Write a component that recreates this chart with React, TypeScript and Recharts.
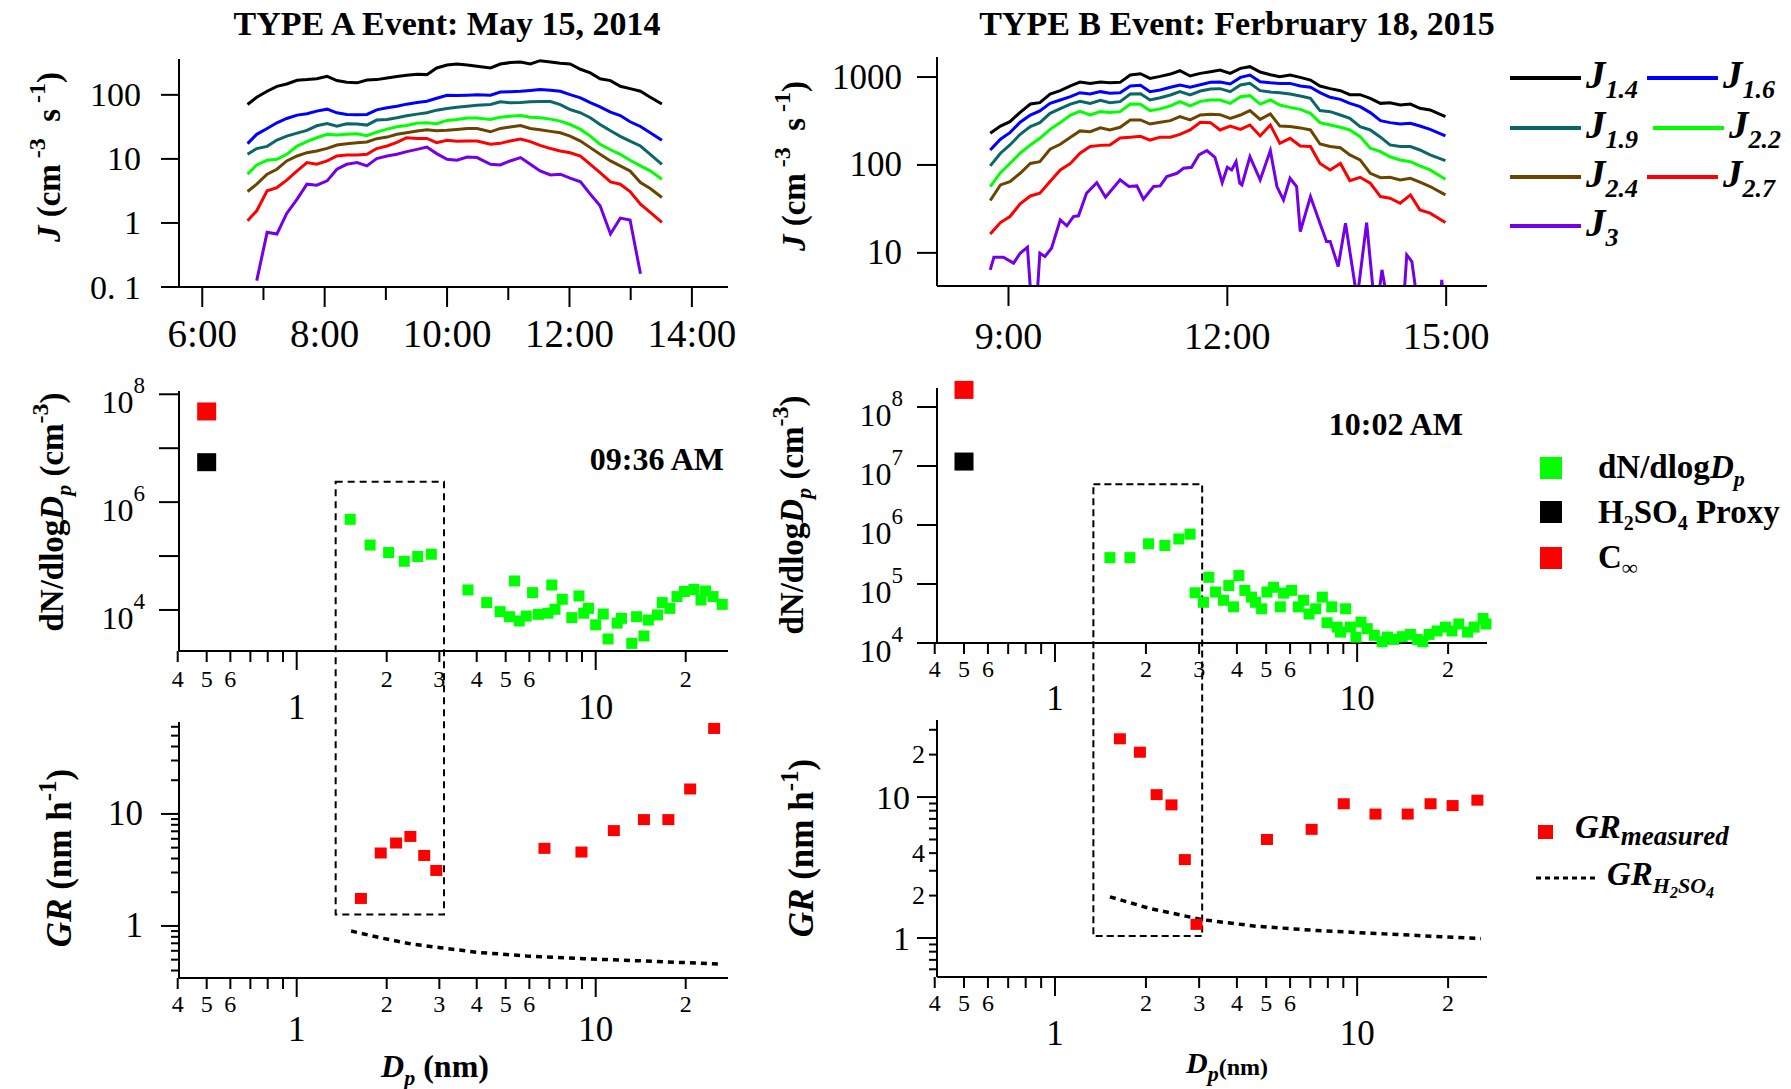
import React from 'react';
import { LineChart, Line, XAxis, YAxis, ComposedChart, Scatter, ReferenceArea } from 'recharts';

const FONT = "'Liberation Serif', 'Times New Roman', Times, serif";

// ---------- TYPE A event (May 15, 2014): J vs time (hours) ----------
const timesA = [6.74, 6.89, 7.06, 7.22, 7.38, 7.55, 7.71, 7.87, 8.04, 8.20, 8.36, 8.53, 8.69, 8.85, 9.02, 9.18, 9.34, 9.51, 9.67, 9.83, 10.00, 10.16, 10.33, 10.49, 10.71, 10.87, 11.03, 11.20, 11.36, 11.52, 11.69, 11.85, 12.01, 12.18, 12.34, 12.50, 12.67, 12.83, 12.99, 13.16, 13.32, 13.51];
const j14A = [70.6, 91.9, 114, 136, 148, 169, 173, 179, 195, 167, 157, 154, 171, 173, 184, 193, 202, 210, 207, 263, 293, 303, 293, 279, 263, 303, 319, 326, 303, 342, 326, 311, 303, 251, 220, 178, 167, 136, 125, 114, 92, 72];
const j16A = [17.3, 24.2, 29.9, 36.6, 42.8, 48.3, 50.6, 55.7, 59.8, 52.5, 49.4, 48.8, 49.4, 58.4, 62.8, 66.5, 71.6, 75.9, 79.6, 88.6, 98.8, 97.6, 98.8, 100, 98.8, 111, 112, 114, 117, 121, 118, 114, 101, 89.8, 75.9, 65.0, 53.7, 47.6, 38.0, 32.1, 25.6, 19.5];
const j19A = [11.8, 14.5, 15.7, 19.7, 22.7, 25.3, 27.9, 32.9, 35.8, 32.5, 35.4, 35.0, 33.7, 40.4, 41.3, 43.9, 47.1, 50.0, 52.5, 57.7, 61.2, 64.3, 66.5, 69.0, 70.6, 77.8, 75.0, 75.9, 77.8, 78.7, 78.7, 70.6, 59.1, 52.5, 43.9, 34.5, 27.5, 22.5, 19.0, 15.9, 11.8, 8.24];
const j22A = [5.77, 8.05, 9.51, 9.86, 11.8, 15.9, 18.6, 21.4, 24.2, 23.6, 24.2, 24.7, 23.0, 26.2, 29.2, 31.8, 33.3, 36.2, 36.6, 35.4, 39.9, 41.3, 43.4, 43.4, 41.3, 44.9, 46.5, 47.6, 44.9, 43.9, 41.8, 38.9, 34.5, 28.9, 22.7, 16.9, 13.9, 11.8, 9.51, 7.77, 6.50, 4.82];
const j24A = [3.10, 4.03, 5.77, 6.90, 9.29, 11.1, 12.5, 13.3, 14.6, 16.5, 17.3, 17.9, 18.4, 20.7, 21.9, 24.2, 25.6, 27.2, 28.5, 27.5, 27.9, 28.9, 29.9, 29.9, 26.5, 29.9, 31.4, 33.3, 29.9, 28.5, 26.9, 25.6, 22.7, 19.0, 15.0, 11.8, 9.29, 7.77, 6.50, 4.28, 3.45, 2.50];
const j27A = [1.08, 1.55, 3.18, 3.57, 4.65, 6.50, 8.75, 8.24, 9.29, 11.1, 11.5, 11.5, 11.8, 14.5, 15.9, 18.1, 21.4, 20.9, 20.9, 17.9, 19.5, 18.8, 19.0, 19.0, 16.9, 17.5, 19.0, 20.4, 18.6, 16.3, 14.5, 13.3, 12.5, 11.1, 8.24, 6.12, 4.38, 4.03, 3.10, 1.97, 1.46, 1.02];
const j3A = [null, 0.126, 0.714, 0.673, 1.41, 2.36, 4.03, 3.89, 4.54, 6.90, 8.24, 8.75, 7.77, 10.1, 11.1, 11.8, 13.0, 14.1, 15.3, 12.1, 9.86, 9.51, 10.7, 10.5, 8.24, 8.05, 9.29, 10.5, 8.24, 6.50, 5.63, 5.77, 5.00, 4.38, 2.82, 1.85, 0.673, 1.19, 1.11, 0.161, null, null];

// ---------- TYPE B event (Feb 18, 2015) ----------
const timesB = [8.75, 8.89, 9.02, 9.16, 9.30, 9.43, 9.57, 9.71, 9.85, 9.98, 10.12, 10.26, 10.39, 10.53, 10.67, 10.81, 10.94, 11.08, 11.22, 11.35, 11.49, 11.63, 11.77, 11.90, 12.04, 12.18, 12.31, 12.45, 12.59, 12.72, 12.86, 13.00, 13.14, 13.27, 13.41, 13.55, 13.68, 13.82, 13.96, 14.10, 14.23, 14.37, 14.51, 14.64, 14.78, 14.99];
const j14B = [229, 277, 311, 397, 493, 511, 641, 700, 791, 877, 847, 877, 862, 870, 1054, 1092, 966, 1018, 1081, 1180, 1028, 1101, 1150, 1202, 1101, 1256, 1312, 1140, 1064, 1009, 1054, 991, 924, 791, 738, 700, 630, 630, 573, 502, 511, 481, 493, 441, 422, 354];
const j16B = [148, 196, 233, 306, 370, 411, 502, 548, 598, 664, 641, 682, 653, 664, 791, 804, 682, 711, 764, 811, 764, 818, 870, 877, 834, 991, 1054, 885, 862, 847, 847, 791, 764, 664, 588, 557, 502, 460, 394, 319, 303, 292, 298, 277, 254, 214];
const j19B = [97.5, 136, 169, 223, 273, 303, 386, 437, 493, 529, 502, 543, 511, 525, 641, 647, 548, 582, 625, 682, 625, 694, 731, 738, 682, 811, 847, 700, 676, 664, 641, 608, 573, 415, 404, 370, 339, 273, 250, 207, 169, 162, 162, 148, 130, 112];
const j22B = [56.8, 81.8, 104, 136, 169, 201, 254, 303, 370, 407, 370, 404, 394, 404, 493, 489, 415, 434, 469, 525, 469, 529, 548, 548, 502, 598, 614, 493, 548, 481, 452, 429, 386, 303, 285, 268, 250, 210, 155, 142, 124, 114, 109, 97.5, 87.7, 68.7];
const j24B = [39.4, 59.3, 64.7, 80.4, 104, 109, 151, 172, 207, 244, 239, 264, 250, 268, 325, 325, 292, 306, 319, 354, 325, 370, 377, 373, 339, 370, 415, 330, 380, 277, 273, 264, 250, 173, 162, 157, 130, 114, 80.4, 71.7, 72.4, 67.6, 70.6, 63.6, 56.8, 45.6];
const j27B = [16.4, 22.1, 25.9, 36.1, 44.4, 47.6, 64.7, 87.7, 104, 136, 162, 167, 169, 203, 207, 212, 192, 207, 207, 223, 250, 306, 303, 250, 277, 254, 285, 214, 285, 176, 201, 164, 162, 104, 87.7, 104, 66.4, 72.4, 61.9, 43.7, 41.8, 36.7, 45.6, 30.8, 28.3, 22.1];
const timesJ3B = [8.75, 8.80, 8.93, 9.07, 9.16, 9.26, 9.31, 9.39, 9.43, 9.50, 9.59, 9.71, 9.80, 9.89, 9.96, 10.07, 10.21, 10.33, 10.53, 10.65, 10.76, 10.85, 10.99, 11.08, 11.17, 11.31, 11.40, 11.51, 11.61, 11.72, 11.83, 11.93, 12.00, 12.06, 12.12, 12.17, 12.20, 12.31, 12.45, 12.59, 12.68, 12.77, 12.86, 12.95, 13.00, 13.14, 13.27, 13.36, 13.41, 13.52, 13.62, 13.78, 13.91, 14.01, 14.07, 14.12, 14.19, 14.42, 14.46, 14.53, 14.60, 14.92, 14.94, 14.96];
const j3B = [6.41, 8.93, 8.93, 7.64, 9.91, 11.6, 3.0, 3.0, 9.91, 9.10, 11.3, 23.7, 20.3, 25.9, 26.4, 47.6, 63.0, 42.9, 67.6, 56.8, 57.8, 40.8, 56.8, 57.8, 73.8, 80.4, 91.6, 94.2, 130, 146, 122, 63.0, 94.2, 87.7, 109, 61.9, 59.3, 124, 67.6, 146, 56.8, 40.0, 70.6, 56.8, 17.5, 43.7, 21.7, 13.5, 13.5, 7.0, 21.7, 3.0, 22.1, 3.0, 3.0, 6.41, 3.0, 3.0, 9.48, 7.98, 3.0, 3.0, 4.93, 3.0];

const jKeys = ['j14', 'j16', 'j19', 'j22', 'j24', 'j27', 'j3'];
const jColors = ['#000000', '#0000ff', '#0b6767', '#00ff00', '#6b4500', '#ff0000', '#7300e6'];
const jNames = ['1.4', '1.6', '1.9', '2.2', '2.4', '2.7', '3'];

// ---------- size distributions (Dp nm, dN/dlogDp cm-3) ----------
const dpNA = [1.51, 1.76, 2.03, 2.29, 2.54, 2.82, 3.74, 4.32, 4.79, 5.15, 5.55, 5.35, 5.86, 6.15, 6.43, 6.92, 7.13, 7.31, 7.73, 8.32, 8.79, 9.12, 9.46, 10.0, 10.6, 11.0, 11.8, 12.2, 13.2, 13.7, 14.5, 15.0, 16.1, 16.7, 17.7, 18.7, 19.8, 21.3, 22.5, 23.3, 24.7, 26.5];
const dNA = [4.8e5, 1.6e5, 1.16e5, 8.0e4, 9.8e4, 1.08e5, 2.35e4, 1.37e4, 9.3e3, 7.5e3, 6.25e3, 3.45e4, 7.7e3, 2.1e4, 8.3e3, 8.7e3, 2.9e4, 1.03e4, 1.58e4, 7.2e3, 1.82e4, 8.7e3, 1.07e4, 5.3e3, 8.4e3, 2.9e3, 5.7e3, 7.0e3, 2.4e3, 7.5e3, 3.3e3, 6.5e3, 8.1e3, 1.37e4, 1.07e4, 1.77e4, 2.2e4, 2.4e4, 1.53e4, 2.25e4, 1.77e4, 1.27e4];
const dpNB = [1.52, 1.77, 2.04, 2.31, 2.57, 2.80, 2.91, 3.10, 3.23, 3.40, 3.61, 3.76, 3.90, 4.06, 4.25, 4.47, 4.61, 4.83, 5.03, 5.29, 5.57, 5.71, 6.07, 6.39, 6.65, 6.93, 7.29, 7.67, 7.95, 8.24, 8.59, 8.81, 9.16, 9.50, 9.91, 10.3, 10.8, 11.4, 12.1, 12.6, 13.2, 14.1, 15.0, 15.8, 16.5, 17.3, 18.4, 19.6, 20.6, 21.7, 23.2, 24.4, 26.1, 26.7];
const dNB = [2.8e5, 2.8e5, 4.8e5, 4.5e5, 5.8e5, 7.0e5, 7.1e4, 4.9e4, 1.3e5, 7.3e4, 5.3e4, 9.4e4, 4.1e4, 1.39e5, 7.8e4, 6.0e4, 4.9e4, 3.8e4, 7.3e4, 8.8e4, 4.1e4, 7.0e4, 7.8e4, 4.1e4, 5.3e4, 3.1e4, 3.8e4, 6.0e4, 2.2e4, 4.1e4, 1.86e4, 1.53e4, 3.8e4, 1.86e4, 1.26e4, 2.26e4, 1.75e4, 1.35e4, 1.05e4, 1.26e4, 1.15e4, 1.28e4, 1.4e4, 1.15e4, 1.05e4, 1.4e4, 1.6e4, 1.86e4, 1.6e4, 2.1e4, 1.53e4, 1.86e4, 2.6e4, 2.1e4];
const markerDp = [0.5];
const proxyA = [5.5e6];
const cinfA = [4.8e7];
const proxyB = [1.19e7];
const cinfB = [1.95e8];

// ---------- growth rates (nm h-1) ----------
const grDpA = [1.64, 1.91, 2.15, 2.40, 2.67, 2.93, 6.74, 8.96, 11.5, 14.5, 17.5, 20.7, 24.9];
const grA = [1.76, 4.48, 5.5, 6.3, 4.26, 3.13, 4.93, 4.57, 7.1, 8.9, 8.9, 16.7, 58];
const h2DpA = [1.52, 1.94, 2.42, 3.02, 4.06, 5.86, 9.13, 14.7, 26.1];
const h2A = [0.90, 0.776, 0.69, 0.64, 0.58, 0.54, 0.51, 0.486, 0.457];
const grDpB = [1.64, 1.91, 2.17, 2.43, 2.69, 2.94, 5.03, 7.07, 9.03, 11.5, 14.7, 17.5, 20.7, 25.0];
const grB = [25.9, 20.8, 10.4, 8.8, 3.6, 1.25, 5.0, 5.9, 8.96, 7.57, 7.57, 8.96, 8.7, 9.5];
const h2DpB = [1.52, 2.06, 3.07, 4.66, 7.38, 12.3, 25.7];
const h2B = [1.96, 1.62, 1.35, 1.21, 1.13, 1.07, 0.99];

// dashed selection box around the 1.4-3 nm range (Dp from, Dp to, top in dN units, bottom extended to GR panel)
const boxDpA = [1.35, 3.11];
const boxDpB = [1.34, 3.07];

// tick sets
const dpTicks = [0.4, 0.5, 0.6, 0.7, 0.8, 0.9, 1, 2, 3, 4, 5, 6, 7, 8, 9, 10, 20];
const dpSmall: Record<string, string> = { '0.4': '4', '0.5': '5', '0.6': '6', '2': '2', '3': '3', '4': '4', '5': '5', '6': '6', '20': '2' };
const dpBig: Record<string, string> = { '1': '1', '10': '10' };
const decadeTicks = [1e4, 1e5, 1e6, 1e7, 1e8];
const grTicksA = [0.4, 0.5, 0.6, 0.7, 0.8, 0.9, 1, 2, 3, 4, 5, 6, 7, 8, 9, 10, 20, 30, 40, 50, 60];
const grTicksB = [0.6, 0.7, 0.8, 0.9, 1, 2, 3, 4, 5, 6, 7, 8, 9, 10, 20, 30];

const dataA = timesA.map((t, i) => ({ t, j14: j14A[i], j16: j16A[i], j19: j19A[i], j22: j22A[i], j24: j24A[i], j27: j27A[i], j3: j3A[i] }));
const dataB = timesB.map((t, i) => ({ t, j14: j14B[i], j16: j16B[i], j19: j19B[i], j22: j22B[i], j24: j24B[i], j27: j27B[i] }));
const dataJ3B = timesJ3B.map((t, i) => ({ t, j3: j3B[i] }));
const zip = (xs: number[], ys: number[]) => xs.map((d, i) => ({ d, v: ys[i] }));

const square = (w: number, h: number, color: string) => (p: any) => (
  <rect x={p.cx - w / 2} y={p.cy - h / 2} width={w} height={h} fill={color} />
);
const noShape = () => <g />;
const AX = { stroke: '#000', strokeWidth: 2 };

function TimeTick(props: any) {
  const { x, y, payload, labels, dy, size } = props;
  const label = labels[String(payload.value)];
  return (
    <g>
      <line x1={x} x2={x} y1={y} y2={y + (label ? 20 : 13)} stroke="#000" strokeWidth={2} />
      {label && (
        <text x={x} y={y + dy} textAnchor="middle" dominantBaseline="central" fontFamily={FONT} fontSize={size} fill="#000">
          {label}
        </text>
      )}
    </g>
  );
}

function LeftTick(props: any) {
  const { x, y, payload, majors, minors, len, minorLen, off, size, moff, msize } = props;
  const k = String(payload.value);
  const major = majors[k];
  const minor = minors ? minors[k] : undefined;
  return (
    <g>
      <line x1={x - (major !== undefined ? len : minorLen)} x2={x} y1={y} y2={y} stroke="#000" strokeWidth={2} />
      {major !== undefined && (
        <text x={x - off} y={y} textAnchor="end" dominantBaseline="central" fontFamily={FONT} fontSize={size} fill="#000">{major}</text>
      )}
      {minor !== undefined && (
        <text x={x - moff} y={y} textAnchor="end" dominantBaseline="central" fontFamily={FONT} fontSize={msize} fill="#000">{minor}</text>
      )}
    </g>
  );
}

function PowTick(props: any) {
  const { x, y, payload, show } = props;
  const e = Math.round(Math.log10(payload.value));
  return (
    <g>
      <line x1={x - 20} x2={x} y1={y} y2={y} stroke="#000" strokeWidth={2} />
      {show.includes(e) && (
        <text x={x - 34} y={y + 19} textAnchor="end" fontFamily={FONT} fontSize={32} fill="#000">
          10<tspan dy={-20} fontSize={23}>{e}</tspan>
        </text>
      )}
    </g>
  );
}

function DpTick(props: any) {
  const { x, y, payload, sdy, bdy } = props;
  const k = String(payload.value);
  const small = dpSmall[k];
  const big = dpBig[k];
  return (
    <g>
      <line x1={x} x2={x} y1={y} y2={y + (big ? 19 : 11)} stroke="#000" strokeWidth={2} />
      {small && (
        <text x={x} y={y + sdy} textAnchor="middle" dominantBaseline="central" fontFamily={FONT} fontSize={24} fill="#000">{small}</text>
      )}
      {big && (
        <text x={x} y={y + bdy} textAnchor="middle" dominantBaseline="central" fontFamily={FONT} fontSize={35} fill="#000">{big}</text>
      )}
    </g>
  );
}

const box = (left: number, top: number, width: number, height: number): React.CSSProperties => ({
  position: 'absolute', left, top, width, height,
});

function Overlay() {
  const legendJ = [
    { i: 0, x: 1510, y: 78 }, { i: 1, x: 1647, y: 78 },
    { i: 2, x: 1510, y: 128 }, { i: 3, x: 1653, y: 128 },
    { i: 4, x: 1510, y: 177 }, { i: 5, x: 1647, y: 177 },
    { i: 6, x: 1510, y: 226 },
  ];
  return (
    <svg width={1791} height={1089} style={{ position: 'absolute', left: 0, top: 0, pointerEvents: 'none' }} fontFamily={FONT} fill="#000">
      <text x={447} y={35} textAnchor="middle" fontSize={34} fontWeight="bold">TYPE A Event: May 15, 2014</text>
      <text x={1237} y={35} textAnchor="middle" fontSize={34} fontWeight="bold">TYPE B Event: Ferbruary 18, 2015</text>

      <text transform="translate(60,157) rotate(-90)" textAnchor="middle" fontSize={33} fontWeight="bold">
        <tspan fontStyle="italic">J</tspan> (cm<tspan dy={-15} fontSize={24}>{'\u00a0-3'}</tspan><tspan dy={15}>{'\u00a0\u00a0s'}</tspan><tspan dy={-15} fontSize={24}>{'\u00a0-1'}</tspan><tspan dy={15}>)</tspan>
      </text>
      <text transform="translate(805,166) rotate(-90)" textAnchor="middle" fontSize={33} fontWeight="bold">
        <tspan fontStyle="italic">J</tspan> (cm<tspan dy={-15} fontSize={24}>{'\u00a0-3'}</tspan><tspan dy={15}>{'\u00a0\u00a0s'}</tspan><tspan dy={-15} fontSize={24}>{'\u00a0-1'}</tspan><tspan dy={15}>)</tspan>
      </text>
      <text transform="translate(63,512) rotate(-90)" textAnchor="middle" fontSize={33} fontWeight="bold">
        dN/dlog<tspan fontStyle="italic">D</tspan><tspan fontStyle="italic" fontSize={22} dy={8}>p</tspan><tspan dy={-8}>{'\u00a0(cm'}</tspan><tspan dy={-15} fontSize={24}>-3</tspan><tspan dy={15}>)</tspan>
      </text>
      <text transform="translate(803,515) rotate(-90)" textAnchor="middle" fontSize={33} fontWeight="bold">
        dN/dlog<tspan fontStyle="italic">D</tspan><tspan fontStyle="italic" fontSize={22} dy={8}>p</tspan><tspan dy={-8}>{'\u00a0(cm'}</tspan><tspan dy={-15} fontSize={24}>-3</tspan><tspan dy={15}>)</tspan>
      </text>
      <text transform="translate(71,858) rotate(-90)" textAnchor="middle" fontSize={35} fontWeight="bold">
        <tspan fontStyle="italic">GR</tspan> (nm h<tspan dy={-15} fontSize={25}>-1</tspan><tspan dy={15}>)</tspan>
      </text>
      <text transform="translate(813,848) rotate(-90)" textAnchor="middle" fontSize={35} fontWeight="bold">
        <tspan fontStyle="italic">GR</tspan> (nm h<tspan dy={-15} fontSize={25}>-1</tspan><tspan dy={15}>)</tspan>
      </text>

      <text x={724} y={470} textAnchor="end" fontSize={32} fontWeight="bold">09:36 AM</text>
      <text x={1463} y={435} textAnchor="end" fontSize={32} fontWeight="bold">10:02 AM</text>

      <text x={435} y={1077} textAnchor="middle" fontSize={32} fontWeight="bold">
        <tspan fontStyle="italic">D</tspan><tspan fontStyle="italic" fontSize={22} dy={8}>p</tspan><tspan dy={-8}> (nm)</tspan>
      </text>
      <text x={1227} y={1073} textAnchor="middle" fontSize={30} fontWeight="bold">
        <tspan fontStyle="italic">D</tspan><tspan fontStyle="italic" fontSize={22} dy={8}>p</tspan><tspan fontSize={24} dy={-6}>(nm)</tspan>
      </text>

      {legendJ.map((e) => (
        <g key={e.i}>
          <line x1={e.x} x2={e.x + 71} y1={e.y} y2={e.y} stroke={jColors[e.i]} strokeWidth={4} />
          <text x={e.x + 76} y={e.y + 10} fontSize={39} fontWeight="bold" fontStyle="italic">
            J<tspan dy={10} fontSize={26}>{jNames[e.i]}</tspan>
          </text>
        </g>
      ))}

      <rect x={1540} y={457} width={22} height={22} fill="#00ff00" />
      <text x={1598} y={478} fontSize={33} fontWeight="bold">
        dN/dlog<tspan fontStyle="italic">D</tspan><tspan fontStyle="italic" fontSize={22} dy={8}>p</tspan>
      </text>
      <rect x={1540} y={501} width={22} height={22} fill="#000" />
      <text x={1598} y={523} fontSize={33} fontWeight="bold">
        H<tspan fontSize={20} dy={7}>2</tspan><tspan dy={-7}>SO</tspan><tspan fontSize={20} dy={7}>4</tspan><tspan dy={-7}>{'\u00a0Proxy'}</tspan>
      </text>
      <rect x={1540} y={547} width={22} height={22} fill="#ff0000" />
      <text x={1598} y={568} fontSize={33} fontWeight="bold">
        C<tspan fontSize={22} dy={7}>∞</tspan>
      </text>

      <rect x={1538} y={825} width={15} height={14} fill="#ff0000" />
      <text x={1575} y={838} fontSize={33} fontWeight="bold" fontStyle="italic">
        GR<tspan fontSize={27} dy={7}>measured</tspan>
      </text>
      <line x1={1536} x2={1597} y1={878} y2={878} stroke="#000" strokeWidth={3} strokeDasharray="5 4" />
      <text x={1607} y={885} fontSize={33} fontWeight="bold" fontStyle="italic">
        GR<tspan fontSize={22} dy={8}>H</tspan><tspan fontSize={16} dy={5}>2</tspan><tspan fontSize={22} dy={-5}>SO</tspan><tspan fontSize={16} dy={5}>4</tspan>
      </text>
    </svg>
  );
}

export default function App() {
  return (
    <div style={{ position: 'absolute', left: 0, top: 0, width: 1791, height: 1089, background: '#fff', overflow: 'hidden' }}>
      <style>{'.recharts-surface{overflow:visible}'}</style>

      {/* Type A: formation rates */}
      <div style={box(0, 0, 740, 360)}>
        <LineChart width={740} height={360} data={dataA} margin={{ top: 59, right: 12, bottom: 0, left: 0 }}>
          <XAxis dataKey="t" type="number" domain={[5.62, 14.59]} ticks={[6, 7, 8, 9, 10, 11, 12, 13, 14]} interval={0}
            height={73} axisLine={AX} tickLine={false} tickSize={0} tickMargin={0}
            tick={<TimeTick labels={{ '6': '6:00', '8': '8:00', '10': '10:00', '12': '12:00', '14': '14:00' }} dy={46} size={39} />} />
          <YAxis type="number" scale="log" domain={[0.1, 363]} ticks={[0.1, 1, 10, 100]} interval={0} width={179}
            axisLine={AX} tickLine={false} tickSize={0} tickMargin={0} allowDataOverflow
            tick={<LeftTick majors={{ '0.1': '0. 1', '1': '1', '10': '10', '100': '100' }} len={18} minorLen={8} off={38} size={34} />} />
          {jKeys.map((k, i) => (
            <Line key={k} dataKey={k} stroke={jColors[i]} strokeWidth={3} dot={false} activeDot={false} isAnimationActive={false} />
          ))}
        </LineChart>
      </div>

      {/* Type B: formation rates */}
      <div style={box(750, 0, 760, 360)}>
        <LineChart width={760} height={360} data={dataB} margin={{ top: 57, right: 23, bottom: 0, left: 0 }}>
          <XAxis dataKey="t" type="number" domain={[8.02, 15.56]} ticks={[9, 12, 15]} interval={0}
            height={74} axisLine={AX} tickLine={false} tickSize={0} tickMargin={0}
            tick={<TimeTick labels={{ '9': '9:00', '12': '12:00', '15': '15:00' }} dy={50} size={38} />} />
          <YAxis type="number" scale="log" domain={[4.2, 1690]} ticks={[10, 100, 1000]} interval={0} width={187}
            axisLine={AX} tickLine={false} tickSize={0} tickMargin={0} allowDataOverflow
            tick={<LeftTick majors={{ '10': '10', '100': '100', '1000': '1000' }} len={20} minorLen={8} off={35} size={35} />} />
          {jKeys.slice(0, 6).map((k, i) => (
            <Line key={k} dataKey={k} stroke={jColors[i]} strokeWidth={3} dot={false} activeDot={false} isAnimationActive={false} />
          ))}
          <Line data={dataJ3B} dataKey="j3" stroke={jColors[6]} strokeWidth={3} dot={false} activeDot={false} isAnimationActive={false} />
        </LineChart>
      </div>

      {/* Type A: size distribution (box runs down into the GR panel) */}
      <div style={box(0, 360, 740, 361)}>
        <ComposedChart width={740} height={361} margin={{ top: 31, right: 12, bottom: 0, left: 0 }}>
          <XAxis dataKey="d" type="number" scale="log" domain={[0.404, 27.7]} ticks={dpTicks} interval={0}
            height={70} axisLine={AX} tickLine={false} tickSize={0} tickMargin={0} tick={<DpTick sdy={28} bdy={56} />} />
          <YAxis dataKey="v" type="number" scale="log" domain={[1734, 1.15e8]} ticks={decadeTicks} interval={0} width={179}
            axisLine={AX} tickLine={false} tickSize={0} tickMargin={0} tick={<PowTick show={[4, 6, 8]} />} />
          <Scatter data={zip(dpNA, dNA)} dataKey="v" shape={square(11, 11, '#00ff00')} isAnimationActive={false} />
          <Scatter data={zip(markerDp, proxyA)} dataKey="v" shape={square(19, 18, '#000000')} isAnimationActive={false} />
          <Scatter data={zip(markerDp, cinfA)} dataKey="v" shape={square(19, 18, '#ff0000')} isAnimationActive={false} />
          <ReferenceArea x1={boxDpA[0]} x2={boxDpA[1]} y1={2.39e6} y2={0.0224} ifOverflow="visible" fill="none" stroke="#000" strokeWidth={2} strokeDasharray="7 5" />
        </ComposedChart>
      </div>

      {/* Type B: size distribution */}
      <div style={box(750, 360, 760, 356)}>
        <ComposedChart width={760} height={356} margin={{ top: 28, right: 23, bottom: 0, left: 0 }}>
          <XAxis dataKey="d" type="number" scale="log" domain={[0.407, 26.9]} ticks={dpTicks} interval={0}
            height={73} axisLine={AX} tickLine={false} tickSize={0} tickMargin={0} tick={<DpTick sdy={26} bdy={55} />} />
          <YAxis dataKey="v" type="number" scale="log" domain={[1e4, 2.1e8]} ticks={decadeTicks} interval={0} width={187}
            axisLine={AX} tickLine={false} tickSize={0} tickMargin={0} tick={<PowTick show={[4, 5, 6, 7, 8]} />} />
          <Scatter data={zip(dpNB, dNB)} dataKey="v" shape={square(11, 11, '#00ff00')} isAnimationActive={false} />
          <Scatter data={zip(markerDp, proxyB)} dataKey="v" shape={square(19, 18, '#000000')} isAnimationActive={false} />
          <Scatter data={zip(markerDp, cinfB)} dataKey="v" shape={square(19, 18, '#ff0000')} isAnimationActive={false} />
          <ReferenceArea x1={boxDpB[0]} x2={boxDpB[1]} y1={4.9e6} y2={0.108} ifOverflow="visible" fill="none" stroke="#000" strokeWidth={2} strokeDasharray="7 4" />
        </ComposedChart>
      </div>

      {/* Type A: growth rates */}
      <div style={box(0, 721, 740, 368)}>
        <ComposedChart width={740} height={368} margin={{ top: 1, right: 12, bottom: 0, left: 0 }}>
          <XAxis dataKey="d" type="number" scale="log" domain={[0.404, 27.7]} ticks={dpTicks} interval={0}
            height={111} axisLine={AX} tickLine={false} tickSize={0} tickMargin={0} tick={<DpTick sdy={26} bdy={51} />} />
          <YAxis dataKey="v" type="number" scale="log" domain={[0.343, 66.2]} ticks={grTicksA} interval={0} width={179}
            axisLine={AX} tickLine={false} tickSize={0} tickMargin={0}
            tick={<LeftTick majors={{ '1': '1', '10': '10' }} len={18} minorLen={8} off={36} size={35} />} />
          <Scatter data={zip(h2DpA, h2A)} dataKey="v" line={{ stroke: '#000', strokeWidth: 3.5, strokeDasharray: '6 5' }} lineType="joint" shape={noShape} isAnimationActive={false} />
          <Scatter data={zip(grDpA, grA)} dataKey="v" shape={square(12, 11, '#ff0000')} isAnimationActive={false} />
        </ComposedChart>
      </div>

      {/* Type B: growth rates */}
      <div style={box(750, 716, 760, 373)}>
        <ComposedChart width={760} height={373} margin={{ top: 4, right: 23, bottom: 0, left: 0 }}>
          <XAxis dataKey="d" type="number" scale="log" domain={[0.407, 26.9]} ticks={dpTicks} interval={0}
            height={112} axisLine={AX} tickLine={false} tickSize={0} tickMargin={0} tick={<DpTick sdy={26} bdy={56} />} />
          <YAxis dataKey="v" type="number" scale="log" domain={[0.529, 35.2]} ticks={grTicksB} interval={0} width={187}
            axisLine={AX} tickLine={false} tickSize={0} tickMargin={0}
            tick={<LeftTick majors={{ '1': '1', '10': '10' }} minors={{ '2': '2', '4': '4', '20': '2' }} len={20} minorLen={8} off={27} size={34} moff={12} msize={26} />} />
          <Scatter data={zip(h2DpB, h2B)} dataKey="v" line={{ stroke: '#000', strokeWidth: 3.5, strokeDasharray: '6 5' }} lineType="joint" shape={noShape} isAnimationActive={false} />
          <Scatter data={zip(grDpB, grB)} dataKey="v" shape={square(12, 11, '#ff0000')} isAnimationActive={false} />
        </ComposedChart>
      </div>

      <Overlay />
    </div>
  );
}
